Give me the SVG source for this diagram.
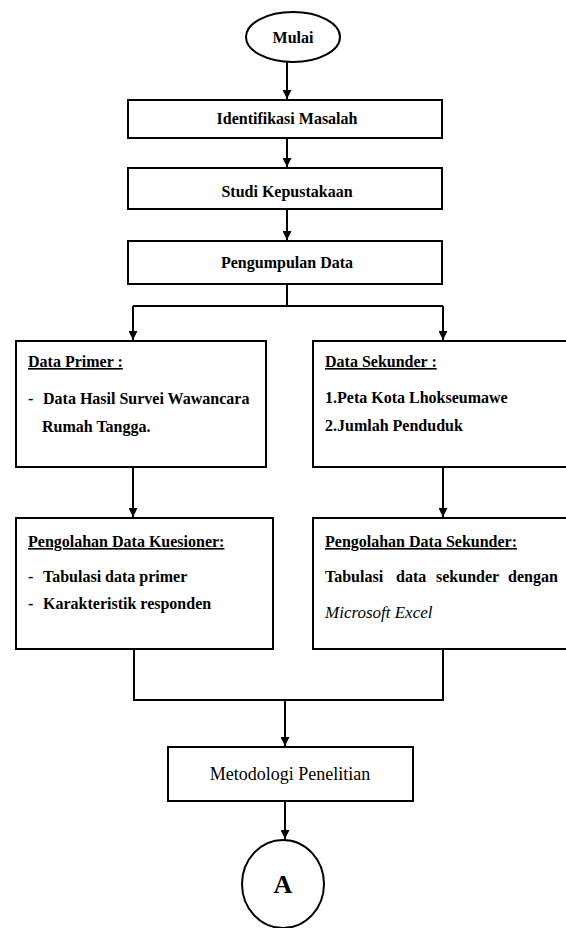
<svg xmlns="http://www.w3.org/2000/svg" width="566" height="928" viewBox="0 0 566 928">
<style>
.bx{fill:#fff;stroke:#000;stroke-width:2}
.ln{fill:none;stroke:#000;stroke-width:2}
.t{font-family:"Liberation Serif","Times New Roman",serif;font-size:16px;font-weight:bold;fill:#000}
.c{text-anchor:middle}
.u{text-decoration:underline}
</style>
<defs>
<marker id="ah" viewBox="0 0 10 10" refX="10" refY="5" markerWidth="9" markerHeight="9" markerUnits="userSpaceOnUse" orient="auto">
<path d="M0,0 L10,5 L0,10 Z" fill="#000"/>
</marker>
</defs>
<rect width="566" height="928" fill="#fff"/>
<g id="connectors">
<path class="ln" d="M287,62 V99" marker-end="url(#ah)"/>
<path class="ln" d="M287,138 V167" marker-end="url(#ah)"/>
<path class="ln" d="M287,209 V240" marker-end="url(#ah)"/>
<path class="ln" d="M287,284 V306 M133,306 H443"/>
<path class="ln" d="M133,306 V340" marker-end="url(#ah)"/>
<path class="ln" d="M443,306 V340" marker-end="url(#ah)"/>
<path class="ln" d="M133,467 V517" marker-end="url(#ah)"/>
<path class="ln" d="M443,467 V517" marker-end="url(#ah)"/>
<path class="ln" d="M134,649 V700 H443 V649"/>
<path class="ln" d="M285,700 V746" marker-end="url(#ah)"/>
<path class="ln" d="M285,801 V839" marker-end="url(#ah)"/>
</g>
<g id="mulai">
<ellipse class="bx" cx="293" cy="37" rx="47" ry="25"/>
<text class="t c" x="293" y="43">Mulai</text>
</g>
<g id="identifikasi">
<rect class="bx" x="128" y="100" width="314" height="38"/>
<text class="t c" x="287" y="124">Identifikasi Masalah</text>
</g>
<g id="studi">
<rect class="bx" x="128" y="168" width="314" height="41"/>
<text class="t c" x="287" y="197">Studi Kepustakaan</text>
</g>
<g id="pengumpulan">
<rect class="bx" x="128" y="241" width="314" height="43"/>
<text class="t c" x="287" y="268">Pengumpulan Data</text>
</g>
<g id="data-primer">
<rect class="bx" x="16" y="341" width="250" height="126"/>
<text class="t u" x="28" y="367">Data Primer :</text>
<text class="t" x="28" y="404">-</text>
<text class="t" x="43" y="404">Data Hasil Survei Wawancara</text>
<text class="t" x="42" y="432">Rumah Tangga.</text>
</g>
<g id="data-sekunder">
<rect class="bx" x="313" y="341" width="270" height="126"/>
<text class="t u" x="325" y="367">Data Sekunder :</text>
<text class="t" x="325" y="403">1.Peta Kota Lhokseumawe</text>
<text class="t" x="325" y="431">2.Jumlah Penduduk</text>
</g>
<g id="pengolahan-kuesioner">
<rect class="bx" x="16" y="518" width="257" height="131"/>
<text class="t u" x="28" y="547">Pengolahan Data Kuesioner:</text>
<text class="t" x="28" y="582">-</text>
<text class="t" x="43" y="582">Tabulasi data primer</text>
<text class="t" x="28" y="609">-</text>
<text class="t" x="43" y="609">Karakteristik responden</text>
</g>
<g id="pengolahan-sekunder">
<rect class="bx" x="313" y="518" width="270" height="131"/>
<text class="t u" x="325" y="547">Pengolahan Data Sekunder:</text>
<text class="t" y="582"><tspan x="325">Tabulasi</tspan><tspan x="396">data</tspan><tspan x="436">sekunder</tspan><tspan x="508">dengan</tspan></text>
<text class="t" x="325" y="618" style="font-weight:normal;font-style:italic;font-size:17px">Microsoft Excel</text>
</g>
<g id="metodologi">
<rect class="bx" x="168" y="747" width="245" height="54"/>
<text class="t c" x="290" y="780" style="font-weight:normal;font-size:18px">Metodologi Penelitian</text>
</g>
<g id="a">
<ellipse class="bx" cx="283" cy="884" rx="41" ry="44"/>
<text class="t c" x="283" y="893" style="font-size:26px">A</text>
</g>
</svg>
